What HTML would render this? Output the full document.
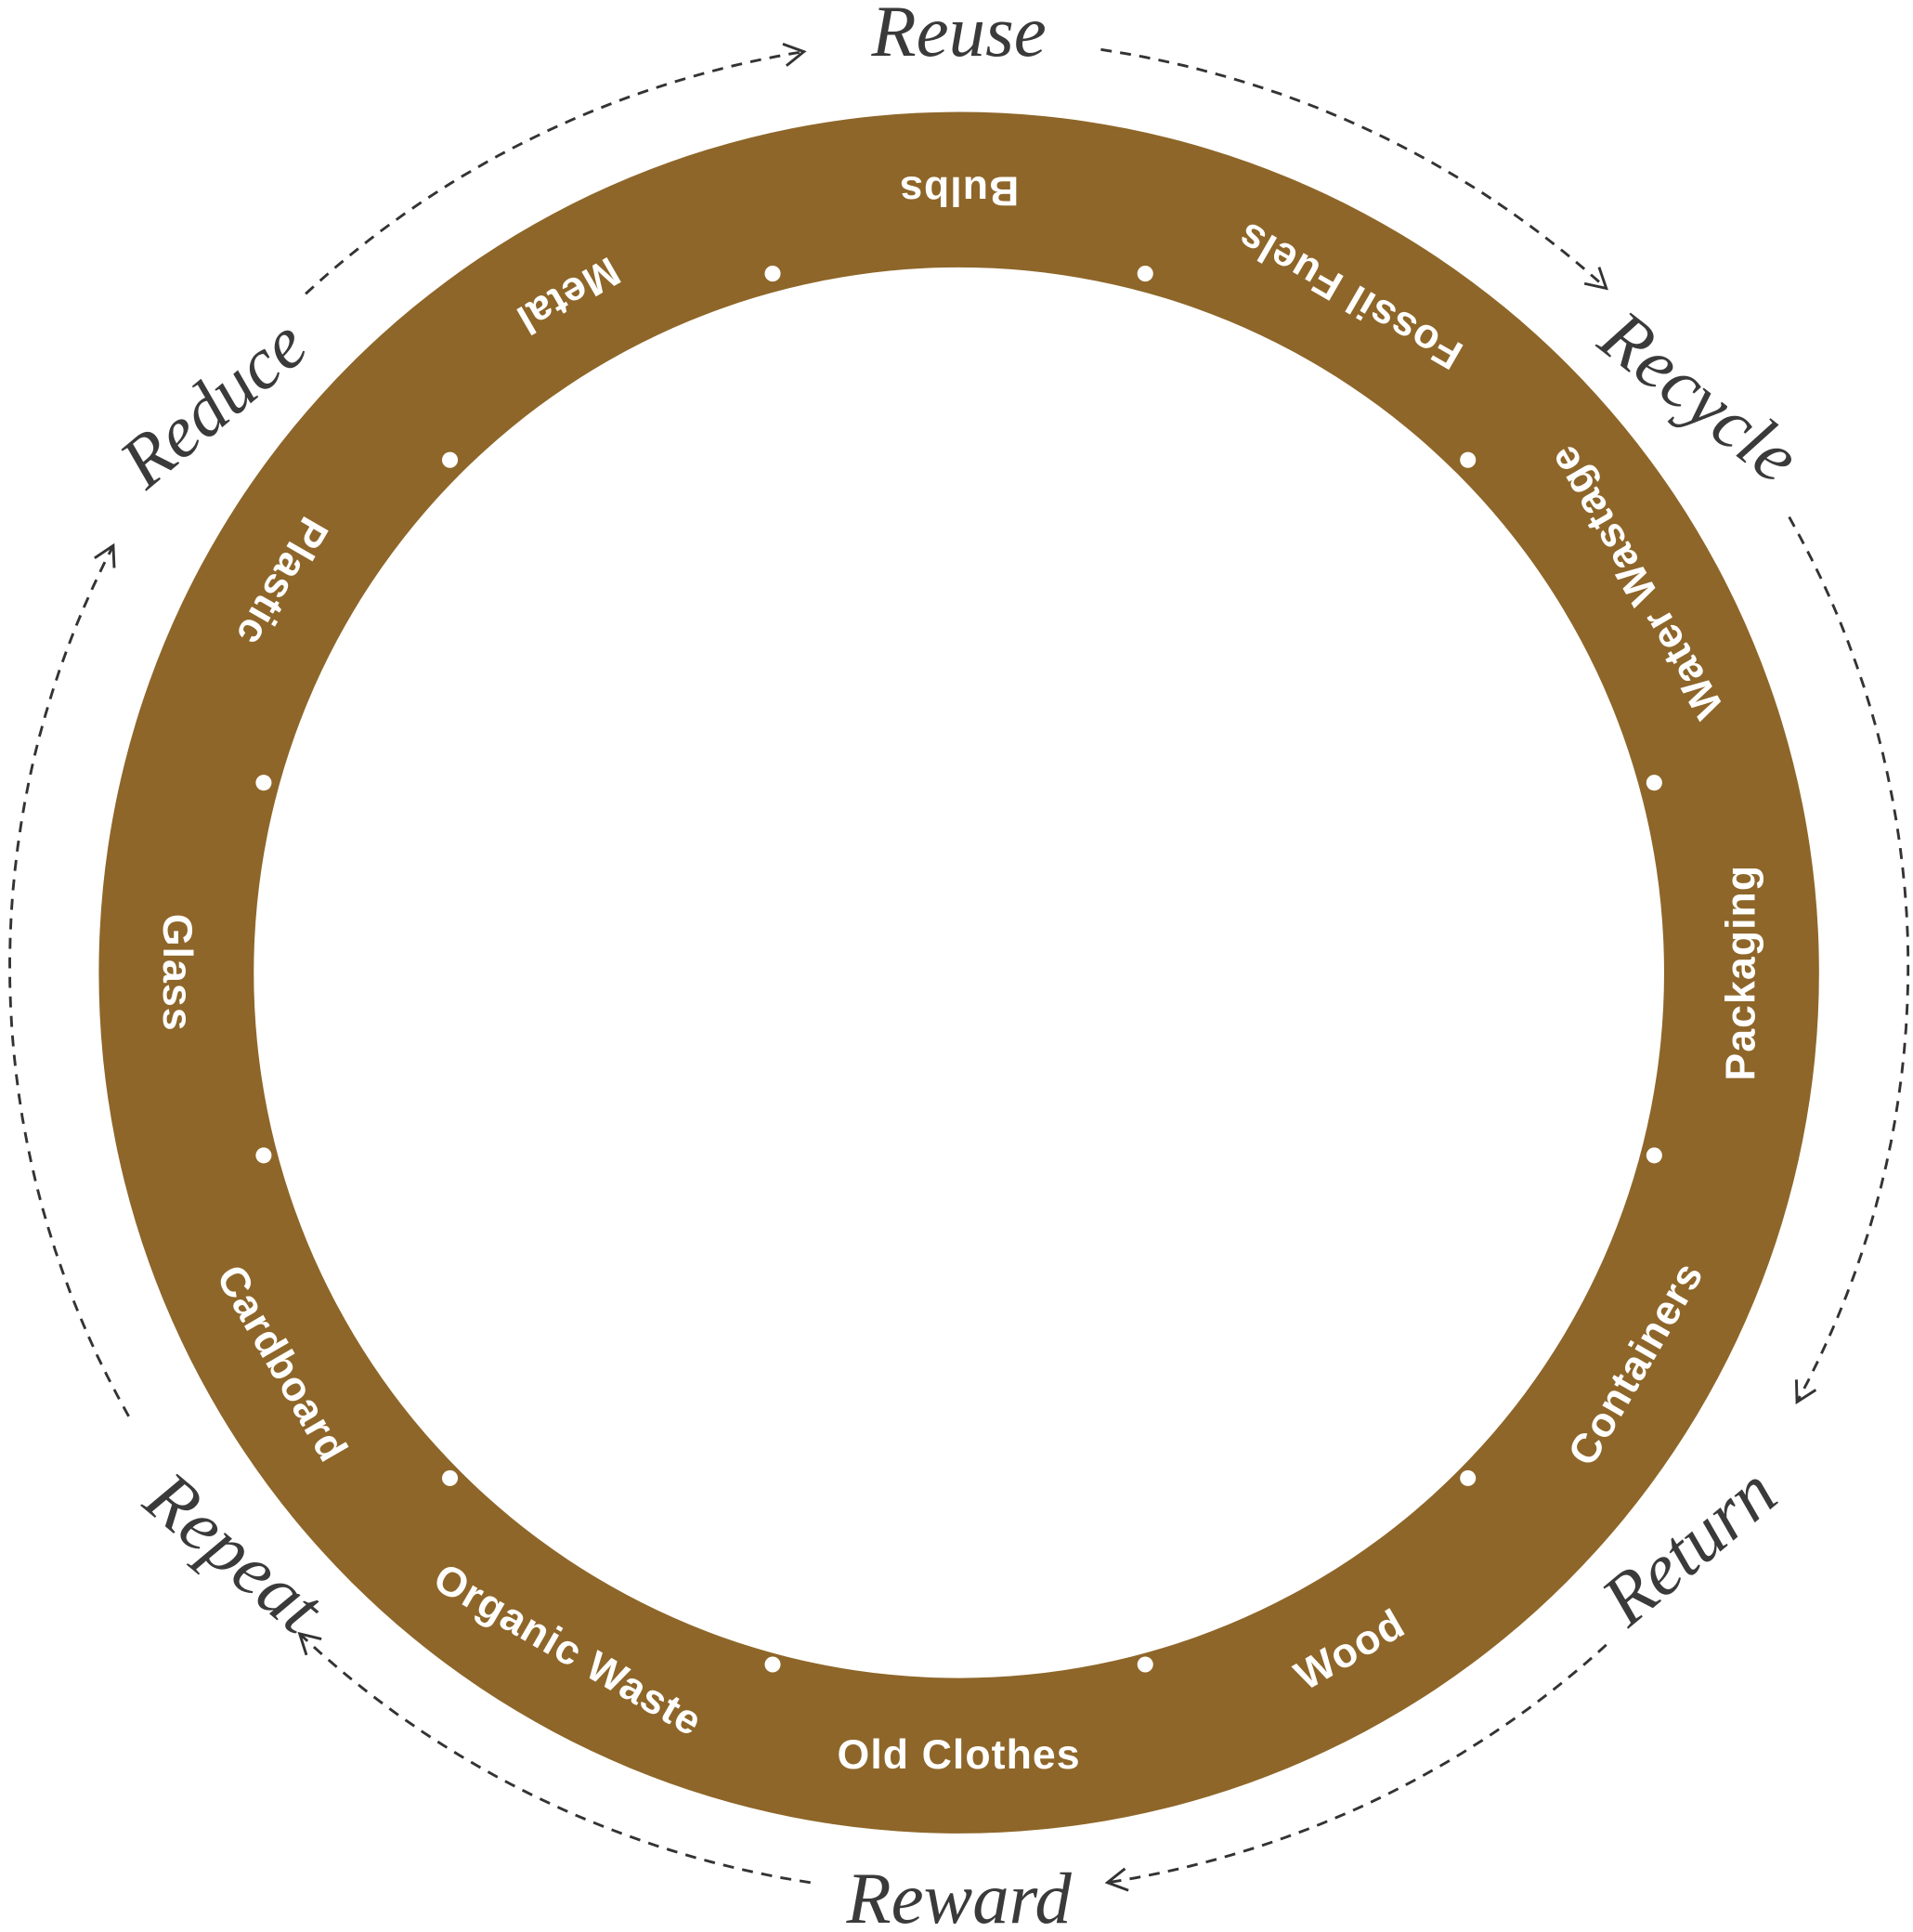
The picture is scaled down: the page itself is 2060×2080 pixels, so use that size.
<!DOCTYPE html>
<html><head><meta charset="utf-8"><style>
html,body{margin:0;padding:0;background:#fff;}
svg{display:block;}
.lbl{font-family:"Liberation Sans",sans-serif;font-size:34px;font-weight:bold;fill:#fff;letter-spacing:0.8px;}
.word{font-family:"Liberation Serif",serif;font-style:italic;font-size:60px;fill:#3a3a3a;}
</style></head><body>
<svg id="c" width="2060" height="2080" viewBox="0 0 1568 1583" xmlns="http://www.w3.org/2000/svg">
<defs><marker id="arr" markerWidth="24" markerHeight="24" refX="18" refY="12" orient="auto" markerUnits="userSpaceOnUse"><path d="M2,3 L18,12 L2,21" fill="none" stroke="#333" stroke-width="2.2"/></marker></defs>
<path fill="#8E6629" fill-rule="evenodd" d="M81,797 a705,705 0 1,0 1410,0 a705,705 0 1,0 -1410,0 Z M208,797 a578,578 0 1,0 1156,0 a578,578 0 1,0 -1156,0 Z"/>
<g id="dots"></g><g id="labels"></g><g id="arcs"></g><g id="words"></g>
</svg>
<script>
const items=["Bulbs","Fossil Fuels","Water Wastage","Packaging","Containers","Wood","Old Clothes","Organic Waste","Cardboard","Glass","Plastic","Metal"];
const words=["Reuse","Recycle","Return","Reward","Repeat","Reduce"];
const wordAngles=[0,52.5,128.5,180,231,307];
const wordRot=[0,38,-40,0,40,-40];
const arcStarts=[8.6,61,137,189,241,-43.5];
const arcEnds=[43,118,171,224,297,-9.4];
const NS="http://www.w3.org/2000/svg";
const cx=786,cy=797;
function pt(a,rx,ry,oy){const t=a*Math.PI/180;return [cx+rx*Math.sin(t),cy+(oy||0)-ry*Math.cos(t)];}
const dots=document.getElementById('dots'),labels=document.getElementById('labels'),arcs=document.getElementById('arcs'),wg=document.getElementById('words');
items.forEach((name,i)=>{
  const a=i*360/items.length;
  const d=pt(a+15,590,590,-3);
  const c=document.createElementNS(NS,'circle');
  c.setAttribute('cx',d[0]);c.setAttribute('cy',d[1]);c.setAttribute('r',6.5);c.setAttribute('fill','#fff');
  
  
  dots.appendChild(c);
  const p=pt(a,641,641);
  const t=document.createElementNS(NS,'text');
  t.setAttribute('class','lbl');t.setAttribute('text-anchor','middle');t.setAttribute('dominant-baseline','central');
  t.setAttribute('transform',`translate(${p[0]},${p[1]}) rotate(${a-180})`);
  t.textContent=name;
  
  
  labels.appendChild(t);
});
words.forEach((w,i)=>{
  const a=wordAngles[i];
  const p=pt(a,765,765,-6);
  const t=document.createElementNS(NS,'text');
  t.setAttribute('class','word');t.setAttribute('text-anchor','middle');t.setAttribute('dominant-baseline','central');
  t.setAttribute('transform',`translate(${p[0]},${p[1]}) rotate(${wordRot[i]})`);
  t.textContent=w;
  
  
  wg.appendChild(t);
});
arcStarts.forEach((s,i)=>{
  const e=arcEnds[i];let d='';
  for(let k=0;k<=40;k++){const a=s+(e-s)*k/40;const p=pt(a,778,760,-5);d+=(k?'L':'M')+p[0].toFixed(1)+','+p[1].toFixed(1);}
  const path=document.createElementNS(NS,'path');
  path.setAttribute('d',d);path.setAttribute('fill','none');path.setAttribute('stroke','#333');
  path.setAttribute('stroke-width','2.2');path.setAttribute('stroke-dasharray','9 7');path.setAttribute('marker-end','url(#arr)');
  
  
  arcs.appendChild(path);
});
</script>
</body></html>
